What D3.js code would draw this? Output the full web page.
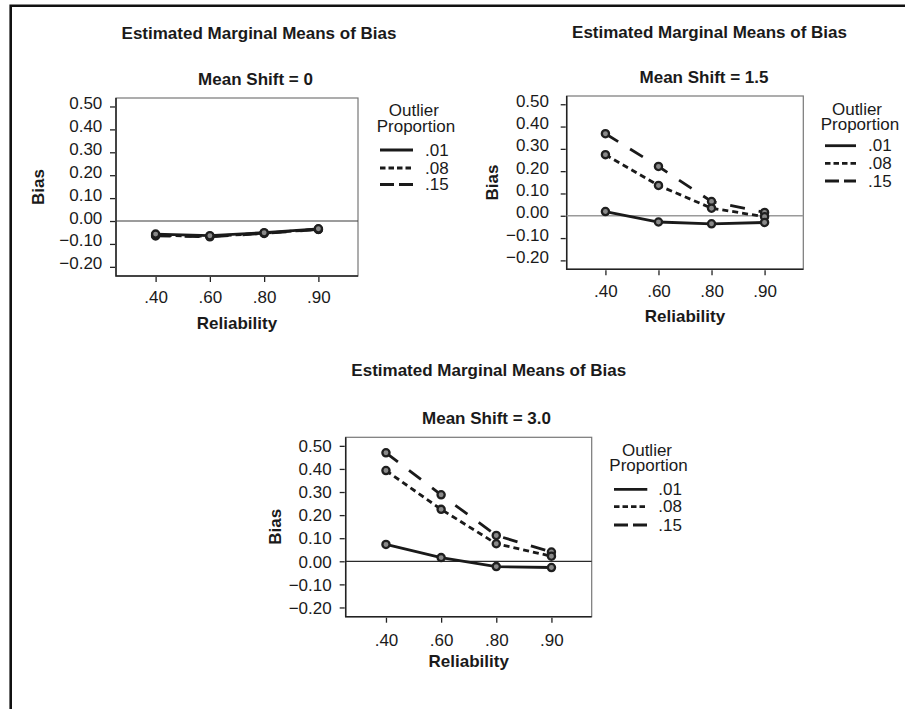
<!DOCTYPE html>
<html><head><meta charset="utf-8">
<script src="https://cdn.jsdelivr.net/npm/d3@7"></script>
<style>
body{margin:0;background:#fff}
svg{display:block}
text{font-family:"Liberation Sans",Arial,Helvetica,sans-serif;fill:#1a1a1a}
</style>
</head><body>
<svg id="c" width="905" height="709"></svg>
<script>
// ---------- data ----------
const reliability = [".40", ".60", ".80", ".90"];
const proportions = [".01", ".08", ".15"];
const yTicks = [0.5, 0.4, 0.3, 0.2, 0.1, 0.0, -0.1, -0.2];
const chartTitle = "Estimated Marginal Means of Bias";
const panelTitles = ["Mean Shift = 0", "Mean Shift = 1.5", "Mean Shift = 3.0"];

const shift0_p01 = [-0.057, -0.064, -0.051, -0.034];
const shift0_p08 = [-0.062, -0.067, -0.053, -0.036];
const shift0_p15 = [-0.065, -0.069, -0.054, -0.037];

const shift15_p01 = [0.019, -0.028, -0.036, -0.030];
const shift15_p08 = [0.274, 0.136, 0.034, -0.004];
const shift15_p15 = [0.368, 0.221, 0.064, 0.015];

const shift30_p01 = [0.073, 0.016, -0.023, -0.027];
const shift30_p08 = [0.393, 0.225, 0.076, 0.022];
const shift30_p15 = [0.470, 0.288, 0.112, 0.040];

const panelSeries = [
  [shift0_p01, shift0_p08, shift0_p15],
  [shift15_p01, shift15_p08, shift15_p15],
  [shift30_p01, shift30_p08, shift30_p15]
];

// ---------- styles / layout ----------
const lineDash = [null, "6,4", "15,14"];
const legendDash = [null, "5.5,3", "14,5"];
const yDomain = [-0.24, 0.537];

const layout = [
  {titleX:259, titleY:38.5, subX:255.5, subY:85,
   f:{l:116, r:358, t:98, b:276}, zeroColor:"#3a3a3a", zeroW:1.2,
   yPad:7.7, yDy:"0.12em", xPad:8.6, relY:328.5, biasX:44.3, biasY:187,
   legX:413.8, outY:115.5, propX:376.7, propY:131.5, lx1:380, lx2:413, legY:[150,168,184.5], labX:425},
  {titleX:709.5, titleY:37.7, subX:704, subY:83.3,
   f:{l:566.7, r:803.3, t:96, b:269.3}, zeroColor:"#9a9a9a", zeroW:1.5,
   yPad:11.7, yDy:"0.12em", xPad:9.3, relY:321.7, biasX:498.3, biasY:182.5,
   legX:857, outY:114.5, propX:820.7, propY:130, lx1:825, lx2:856, legY:[145.7,163.3,181], labX:868},
  {titleX:488.8, titleY:376, subX:486.5, subY:424,
   f:{l:345.7, r:591.7, t:437.3, b:616.7}, zeroColor:"#2a2a2a", zeroW:1.2,
   yPad:8, yDy:"0.34em", xPad:11.2, relY:666.7, biasX:280.7, biasY:526.7,
   legX:647, outY:455.5, propX:609.3, propY:470.7, lx1:614, lx2:647.3, legY:[489.3,506.7,525], labX:658.3}
];

const svg = d3.select("#c");

// outer border (top & left)
svg.append("path").attr("d","M10.7,709 L10.7,5.7 L905,5.7")
  .attr("fill","none").attr("stroke","#111").attr("stroke-width",2.6);

const f2 = d3.format(".2f");
const yFmt = d => (d < -1e-9 ? "\u2212" + f2(-d) : f2(d));

layout.forEach((L, pi) => {
  const g = svg.append("g");
  const f = L.f;
  const x = d3.scalePoint().domain(reliability).range([f.l, f.r]).padding(0.73);
  const y = d3.scaleLinear().domain(yDomain).range([f.b, f.t]);

  g.append("text").attr("x", L.titleX).attr("y", L.titleY).attr("text-anchor","middle")
    .attr("font-size",17).attr("font-weight","bold").text(chartTitle);
  g.append("text").attr("x", L.subX).attr("y", L.subY).attr("text-anchor","middle")
    .attr("font-size",17).attr("font-weight","bold").text(panelTitles[pi]);

  // frame
  g.append("rect").attr("x", f.l).attr("y", f.t).attr("width", f.r - f.l).attr("height", f.b - f.t)
    .attr("fill","none").attr("stroke","#777").attr("stroke-width",1.2);
  g.append("path").attr("d", `M${f.l},${f.t} L${f.l},${f.b} L${f.r},${f.b}`)
    .attr("fill","none").attr("stroke","#222").attr("stroke-width",1.5);

  // zero reference line
  g.append("line").attr("x1", f.l).attr("x2", f.r).attr("y1", y(0)).attr("y2", y(0))
    .attr("stroke", L.zeroColor).attr("stroke-width", L.zeroW);

  // y axis
  const ya = g.append("g").attr("transform", `translate(${f.l - 1},0)`)
    .call(d3.axisLeft(y).tickValues(yTicks).tickFormat(yFmt).tickSize(5).tickPadding(L.yPad).tickSizeOuter(0));
  ya.select(".domain").remove();
  ya.selectAll("line").attr("stroke","#222").attr("stroke-width",1.3);
  ya.selectAll("text").attr("font-size",17).attr("font-family",null).attr("dy", L.yDy).attr("fill","#1a1a1a");

  // x axis
  const xa = g.append("g").attr("transform", `translate(0,${f.b + 1})`)
    .call(d3.axisBottom(x).tickSize(5).tickPadding(L.xPad).tickSizeOuter(0));
  xa.select(".domain").remove();
  xa.selectAll("line").attr("stroke","#222").attr("stroke-width",1.3);
  xa.selectAll("text").attr("font-size",17).attr("font-family",null).attr("fill","#1a1a1a");

  // axis titles
  g.append("text").attr("x", (f.l + f.r) / 2).attr("y", L.relY).attr("text-anchor","middle")
    .attr("font-size",17).attr("font-weight","bold").text("Reliability");
  g.append("text").attr("transform", `translate(${L.biasX},${L.biasY}) rotate(-90)`)
    .attr("text-anchor","middle").attr("font-size",17).attr("font-weight","bold").text("Bias");

  // lines
  const line = d3.line().x((d, i) => x(reliability[i])).y(d => y(d));
  const series = panelSeries[pi];
  [2, 1, 0].forEach(si => {
    g.append("path").datum(series[si]).attr("d", line)
      .attr("fill","none").attr("stroke","#1a1a1a").attr("stroke-width",2.8)
      .attr("stroke-dasharray", lineDash[si]);
  });
  [2, 1, 0].forEach(si => {
    g.selectAll(null).data(series[si]).enter().append("circle")
      .attr("cx", (d, i) => x(reliability[i])).attr("cy", d => y(d)).attr("r", 3.6)
      .attr("fill","#8a8a8a").attr("stroke","#1f1f1f").attr("stroke-width",2.3);
  });

  // legend
  g.append("text").attr("x", L.legX).attr("y", L.outY).attr("text-anchor","middle")
    .attr("font-size",17).text("Outlier");
  g.append("text").attr("x", L.propX).attr("y", L.propY).attr("font-size",17).text("Proportion");
  proportions.forEach((p, si) => {
    g.append("line").attr("x1", L.lx1).attr("x2", L.lx2).attr("y1", L.legY[si]).attr("y2", L.legY[si])
      .attr("stroke","#1a1a1a").attr("stroke-width",2.8).attr("stroke-dasharray", legendDash[si]);
    g.append("text").attr("x", L.labX).attr("y", L.legY[si] + 5.5).attr("font-size",17).text(p);
  });
});
</script>
</body></html>
